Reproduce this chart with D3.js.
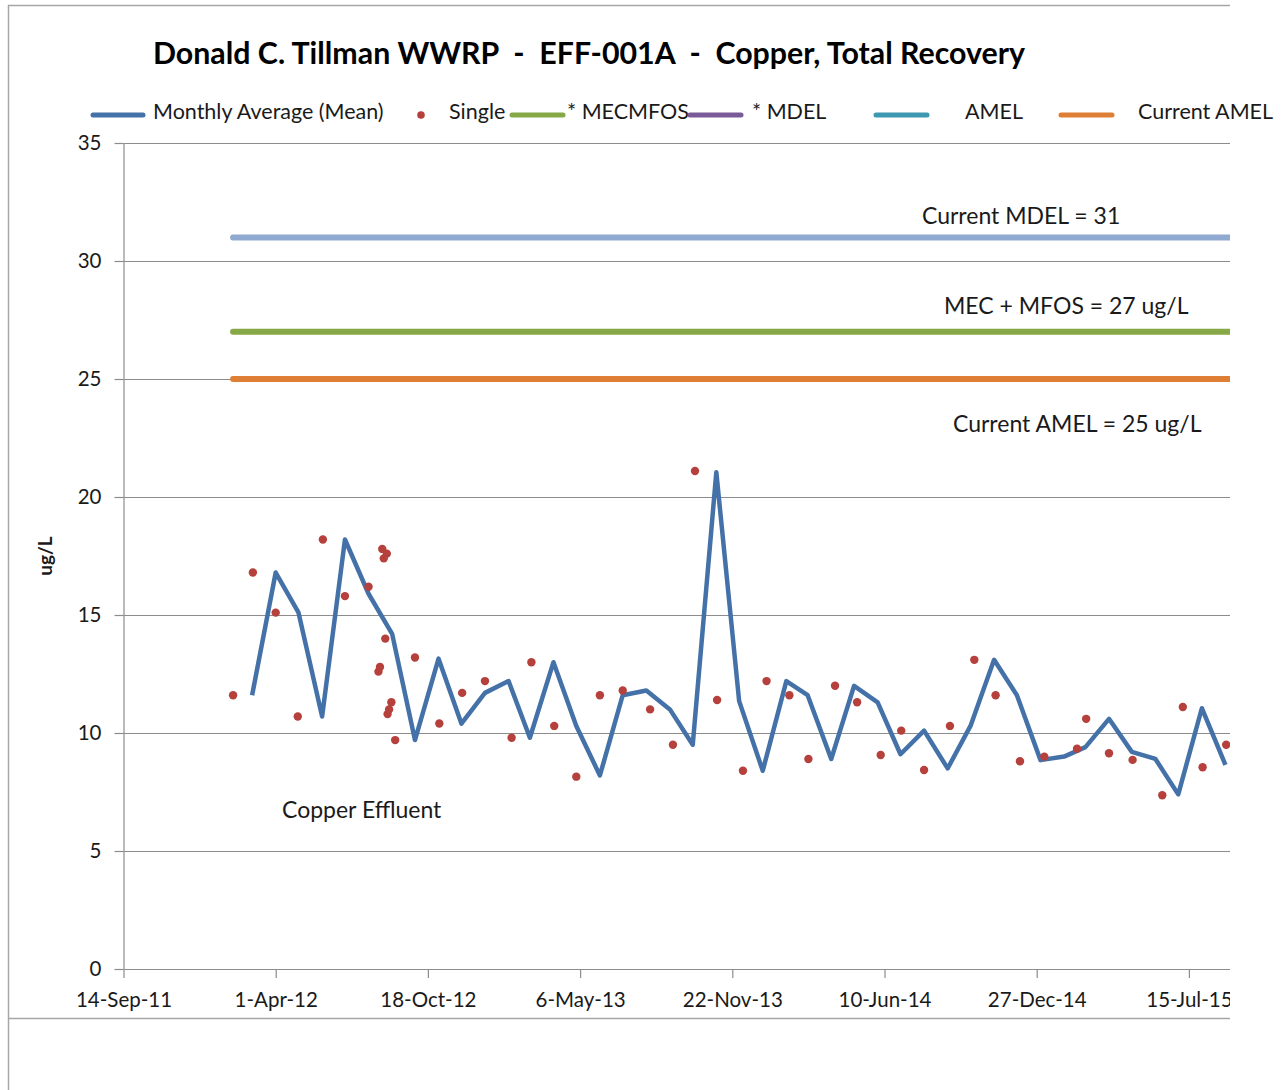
<!DOCTYPE html>
<html>
<head>
<meta charset="utf-8">
<script src="https://cdn.jsdelivr.net/npm/d3@7"></script>
<style>
    body { margin: 0; background: #fff; }
    svg { display: block; font-family: Lato, "Open Sans", sans-serif; }
</style>
</head>
<body>
<div id="chart"></div>
<script>
// monthly average (mean), one point per month
var monthDates = ["2012-03-01", "2012-04-01", "2012-05-01", "2012-06-01", "2012-07-01", "2012-08-01",
    "2012-09-01", "2012-10-01", "2012-11-01", "2012-12-01", "2013-01-01", "2013-02-01",
    "2013-03-01", "2013-04-01", "2013-05-01", "2013-06-01", "2013-07-01", "2013-08-01",
    "2013-09-01", "2013-10-01", "2013-11-01", "2013-12-01", "2014-01-01", "2014-02-01",
    "2014-03-01", "2014-04-01", "2014-05-01", "2014-06-01", "2014-07-01", "2014-08-01",
    "2014-09-01", "2014-10-01", "2014-11-01", "2014-12-01", "2015-01-01", "2015-02-01",
    "2015-03-01", "2015-04-01", "2015-05-01", "2015-06-01", "2015-07-01", "2015-08-01",
    "2015-09-01"];
var monthlyMean = [11.6, 16.8, 15.1, 10.7, 18.2, 15.9, 14.2, 9.7, 13.15, 10.4, 11.7, 12.2,
    9.8, 13.0, 10.3, 8.2, 11.6, 11.8, 11.0, 9.5, 21.05, 11.35, 8.4, 12.2,
    11.6, 8.9, 12.0, 11.3, 9.1, 10.1, 8.5, 10.3, 13.1, 11.6, 8.85, 9.0,
    9.4, 10.6, 9.2, 8.9, 7.4, 11.05, 8.65];

// single samples
var singleDates = ["2012-02-05", "2012-03-02", "2012-04-01", "2012-04-30", "2012-06-02", "2012-07-01",
    "2012-08-01", "2012-08-14", "2012-08-16", "2012-08-19", "2012-08-21", "2012-08-23",
    "2012-08-25", "2012-08-26", "2012-08-28", "2012-08-31", "2012-09-05", "2012-10-01",
    "2012-11-02", "2012-12-02", "2013-01-01", "2013-02-05", "2013-03-03", "2013-04-02",
    "2013-05-01", "2013-06-01", "2013-07-01", "2013-08-06", "2013-09-05", "2013-10-04",
    "2013-11-02", "2013-12-06", "2014-01-06", "2014-02-05", "2014-03-02", "2014-04-06",
    "2014-05-05", "2014-06-05", "2014-07-02", "2014-08-01", "2014-09-04", "2014-10-06",
    "2014-11-03", "2014-12-05", "2015-01-06", "2015-02-18", "2015-03-02", "2015-04-01",
    "2015-05-02", "2015-06-10", "2015-07-07", "2015-08-02", "2015-09-02"];
var singleValues = [11.6, 16.8, 15.1, 10.7, 18.2, 15.8,
    16.2, 12.6, 12.8, 17.8, 17.4, 14.0,
    17.6, 10.8, 11.0, 11.3, 9.7, 13.2,
    10.4, 11.7, 12.2, 9.8, 13.0, 10.3,
    8.15, 11.6, 11.8, 11.0, 9.5, 21.1,
    11.4, 8.4, 12.2, 11.6, 8.9, 12.0,
    11.3, 9.07, 10.1, 8.43, 10.3, 13.1,
    11.6, 8.8, 9.0, 9.33, 10.6, 9.14,
    8.86, 7.36, 11.1, 8.55, 9.5];

// permit limits
var limitNames = ["Current MDEL", "MECMFOS", "Current AMEL"];
var limitValues = [31, 27, 25];
var limitLabels = ["Current MDEL = 31", "MEC + MFOS = 27 ug/L", "Current AMEL = 25 ug/L"];

var tickDates = ["2011-09-14", "2012-04-01", "2012-10-18", "2013-05-06", "2013-11-22",
    "2014-06-10", "2014-12-27", "2015-07-15"];
var yTicks = [0, 5, 10, 15, 20, 25, 30, 35];

var legendLabels = ["Monthly Average (Mean)", "Single", "* MECMFOS", "* MDEL", "AMEL", "Current AMEL"];

var parseDate = d3.timeParse("%Y-%m-%d");
var fmt = d3.timeFormat("%-d-%b-%y");

var width = 1283, height = 1090;
var plot = { left: 123.5, right: 1230, top: 143, bottom: 969 };

var colors = {
    mean: "#4472a8",
    single: "#b5403c",
    mdel: "#8fa9d0",
    mecmfos: "#86a846",
    amel: "#de7f35",
    purple: "#7a5a98",
    teal: "#3e98b2",
    grid: "#8c8c8c",
    text: "#1a1a1a"
};
var limitColors = [colors.mdel, colors.mecmfos, colors.amel];

var svg = d3.select("#chart").append("svg")
    .attr("width", width)
    .attr("height", height);

// outer frame lines
svg.append("line").attr("x1", 8).attr("x2", 1230).attr("y1", 5.5).attr("y2", 5.5)
    .attr("stroke", "#a6a6a6").attr("stroke-width", 1.5);
svg.append("line").attr("x1", 8.5).attr("x2", 8.5).attr("y1", 5).attr("y2", 1090)
    .attr("stroke", "#a6a6a6").attr("stroke-width", 1.5);
svg.append("line").attr("x1", 8).attr("x2", 1230).attr("y1", 1018.5).attr("y2", 1018.5)
    .attr("stroke", "#a6a6a6").attr("stroke-width", 1.5);

svg.append("defs").append("clipPath").attr("id", "clip")
    .append("rect").attr("x", 0).attr("y", 0).attr("width", 1230).attr("height", height);

var x = d3.scaleTime()
    .domain([parseDate("2011-09-14"), parseDate("2015-09-07")])
    .range([plot.left, plot.right]);
var y = d3.scaleLinear()
    .domain([0, 35])
    .range([plot.bottom, plot.top]);

var g = svg.append("g").attr("clip-path", "url(#clip)");

// gridlines
g.selectAll(".grid").data(yTicks.slice(1)).enter().append("line")
    .attr("x1", plot.left).attr("x2", plot.right)
    .attr("y1", function (d) { return Math.round(y(d)) + 0.5; })
    .attr("y2", function (d) { return Math.round(y(d)) + 0.5; })
    .attr("stroke", colors.grid).attr("stroke-width", 1.2);

// axes
var yAxis = g.append("g")
    .attr("transform", "translate(" + plot.left + ",0)")
    .call(d3.axisLeft(y).tickValues(yTicks).tickSize(9).tickPadding(13).tickSizeOuter(0));
var xAxis = g.append("g")
    .attr("transform", "translate(0," + plot.bottom + ")")
    .call(d3.axisBottom(x).tickValues(tickDates.map(parseDate)).tickFormat(fmt)
        .tickSize(9).tickPadding(14).tickSizeOuter(0));
[xAxis, yAxis].forEach(function (a) {
    a.select(".domain").attr("stroke", colors.grid).attr("stroke-width", 1.2);
    a.selectAll(".tick line").attr("stroke", colors.grid).attr("stroke-width", 1.2);
    a.selectAll("text").attr("fill", colors.text).attr("font-size", 20.5)
        .attr("font-family", "Lato, sans-serif");
});

// limit lines start with the first sample
var firstDate = parseDate(singleDates[0]);
g.selectAll(".limit").data(limitValues).enter().append("line")
    .attr("x1", x(firstDate)).attr("x2", plot.right + 10)
    .attr("y1", function (d) { return y(d); })
    .attr("y2", function (d) { return y(d); })
    .attr("stroke", function (d, i) { return limitColors[i]; })
    .attr("stroke-width", 6)
    .attr("stroke-linecap", "round");

var labelPos = [[922, 224], [944, 314], [953, 432]];
svg.selectAll(".limitLabel").data(limitLabels).enter().append("text")
    .attr("x", function (d, i) { return labelPos[i][0]; })
    .attr("y", function (d, i) { return labelPos[i][1]; })
    .attr("font-size", 23).attr("fill", colors.text)
    .text(function (d) { return d; });

// monthly average line
var line = d3.line()
    .x(function (d) { return x(d.date); })
    .y(function (d) { return y(d.value); });
var meanData = monthDates.map(function (d, i) { return { date: parseDate(d), value: monthlyMean[i] }; });
g.append("path").datum(meanData)
    .attr("d", line)
    .attr("fill", "none")
    .attr("stroke", colors.mean)
    .attr("stroke-width", 4.5)
    .attr("stroke-linejoin", "round");

// single points
var singleData = singleDates.map(function (d, i) { return { date: parseDate(d), value: singleValues[i] }; });
g.selectAll(".single").data(singleData).enter().append("circle")
    .attr("cx", function (d) { return x(d.date); })
    .attr("cy", function (d) { return y(d.value); })
    .attr("r", 4.2)
    .attr("fill", colors.single);

svg.append("text").attr("x", 282).attr("y", 818)
    .attr("font-size", 23).attr("fill", colors.text)
    .text("Copper Effluent");

// y title
svg.append("text")
    .attr("transform", "translate(52,556) rotate(-90)")
    .attr("text-anchor", "middle")
    .attr("font-size", 19).attr("font-weight", "bold").attr("fill", colors.text)
    .text("ug/L");

// title
svg.append("text").attr("x", 153).attr("y", 64)
    .attr("font-size", 30).attr("font-weight", "bold").attr("fill", "#000")
    .attr("textLength", 872).attr("lengthAdjust", "spacingAndGlyphs")
    .style("white-space", "pre")
    .text("Donald C. Tillman WWRP  -  EFF-001A  -  Copper, Total Recovery");

// legend
var legendItems = [
    { type: "line", color: colors.mean, x1: 93, x2: 143, tx: 153 },
    { type: "dot", color: colors.single, cx: 421, tx: 449 },
    { type: "line", color: colors.mecmfos, x1: 512, x2: 563, tx: 567 },
    { type: "line", color: colors.purple, x1: 690, x2: 741, tx: 752 },
    { type: "line", color: colors.teal, x1: 876, x2: 927, tx: 965 },
    { type: "line", color: colors.amel, x1: 1061, x2: 1112, tx: 1138 }
];
var legend = svg.append("g");
legendItems.forEach(function (item, i) {
    if (item.type === "line") {
        legend.append("line")
            .attr("x1", item.x1).attr("x2", item.x2).attr("y1", 115).attr("y2", 115)
            .attr("stroke", item.color).attr("stroke-width", 5).attr("stroke-linecap", "round");
    } else {
        legend.append("circle").attr("cx", item.cx).attr("cy", 115).attr("r", 3.8).attr("fill", item.color);
    }
    legend.append("text").attr("x", item.tx).attr("y", 119)
        .attr("font-size", 21.5).attr("fill", colors.text)
        .text(legendLabels[i]);
});
</script>
</body>
</html>
